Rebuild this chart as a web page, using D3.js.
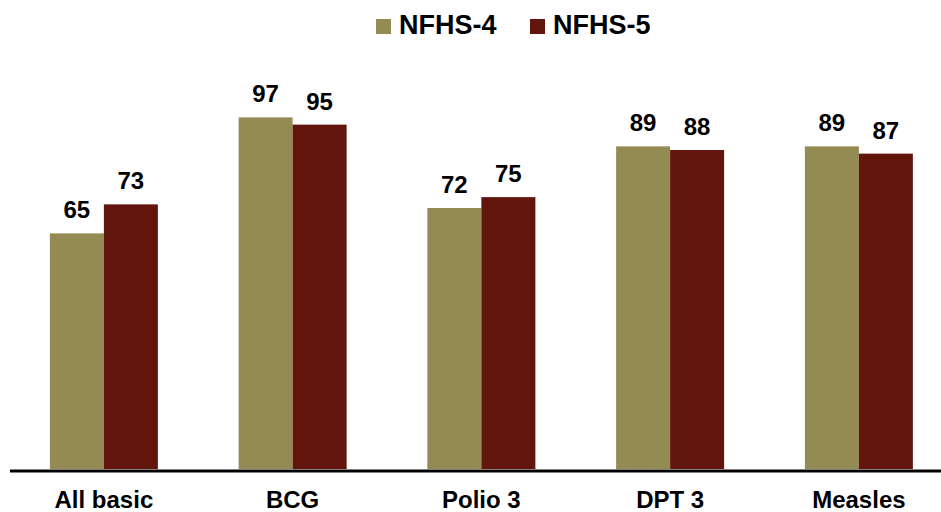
<!DOCTYPE html>
<html>
<head>
<meta charset="utf-8">
<script src="https://cdn.jsdelivr.net/npm/d3@7"></script>
<style>
  body { margin: 0; background: #fff; }
  text { font-family: "Liberation Sans", Arial, sans-serif; font-weight: bold; fill: #000; }
</style>
</head>
<body>
<div id="chart"></div>
<script>
// vaccination coverage, NFHS-4 vs NFHS-5
const categories = ["All basic", "BCG", "Polio 3", "DPT 3", "Measles"];
const seriesNames = ["NFHS-4", "NFHS-5"];
const nfhs4 = [65, 97, 72, 89, 89];
const nfhs5 = [73, 95, 75, 88, 87];
const seriesColors = ["#948a54", "#62150c"];

const width = 941;
const height = 512;
const baseY = 469;

const rows = categories.map((c, i) => ({cat: c, values: [nfhs4[i], nfhs5[i]]}));

const svg = d3.select("#chart")
    .append("svg")
    .attr("width", width)
    .attr("height", height);

/***** SCALES *****/
const x0 = d3.scaleBand()
    .domain(categories)
    .range([9.5, 953.25])
    .paddingInner(0.4278)
    .paddingOuter(0.2139);

const x1 = d3.scaleBand()
    .domain(seriesNames)
    .range([0, x0.bandwidth()]);

const y = d3.scaleLinear()
    .domain([0, 100])
    .range([baseY, 106.5]);

const color = d3.scaleOrdinal().domain(seriesNames).range(seriesColors);

/***** BARS *****/
const groups = svg.append("g")
    .attr("id", "plot")
    .selectAll("g")
    .data(rows)
    .enter()
    .append("g")
    .attr("transform", d => "translate(" + x0(d.cat) + ",0)");

const cells = groups.selectAll("g")
    .data(d => d.values.map((v, i) => ({name: seriesNames[i], value: v})))
    .enter()
    .append("g");

cells.append("rect")
    .attr("x", d => x1(d.name))
    .attr("y", d => y(d.value))
    .attr("width", x1.bandwidth())
    .attr("height", d => y(0) - y(d.value))
    .attr("fill", d => color(d.name));

cells.append("text")
    .attr("x", d => x1(d.name) + x1.bandwidth() / 2)
    .attr("y", d => y(d.value) - 15)
    .attr("text-anchor", "middle")
    .style("font-size", "24px")
    .text(d => d.value);

/***** AXIS *****/
const xAxis = svg.append("g")
    .attr("class", "xAxis")
    .attr("transform", "translate(0," + (baseY + 1.5) + ")")
    .call(d3.axisBottom(x0).tickSize(0).tickSizeOuter(0).tickPadding(20.5));

xAxis.select(".domain")
    .attr("stroke", "#000")
    .attr("stroke-width", 3);

xAxis.selectAll("text")
    .attr("fill", "#000")
    .style("font-size", "24px")
    .style("font-family", "\"Liberation Sans\", Arial, sans-serif")
    .style("font-weight", "bold");

/***** LEGEND *****/
const legendX = [376, 530];
const legend = svg.append("g")
    .attr("id", "header")
    .selectAll("g")
    .data(seriesNames)
    .enter()
    .append("g")
    .attr("transform", (d, i) => "translate(" + legendX[i] + ",19)");

legend.append("rect")
    .attr("width", 15)
    .attr("height", 15)
    .attr("fill", d => color(d));

legend.append("text")
    .attr("x", 23)
    .attr("y", 15)
    .style("font-size", "27px")
    .text(d => d);
</script>
</body>
</html>
